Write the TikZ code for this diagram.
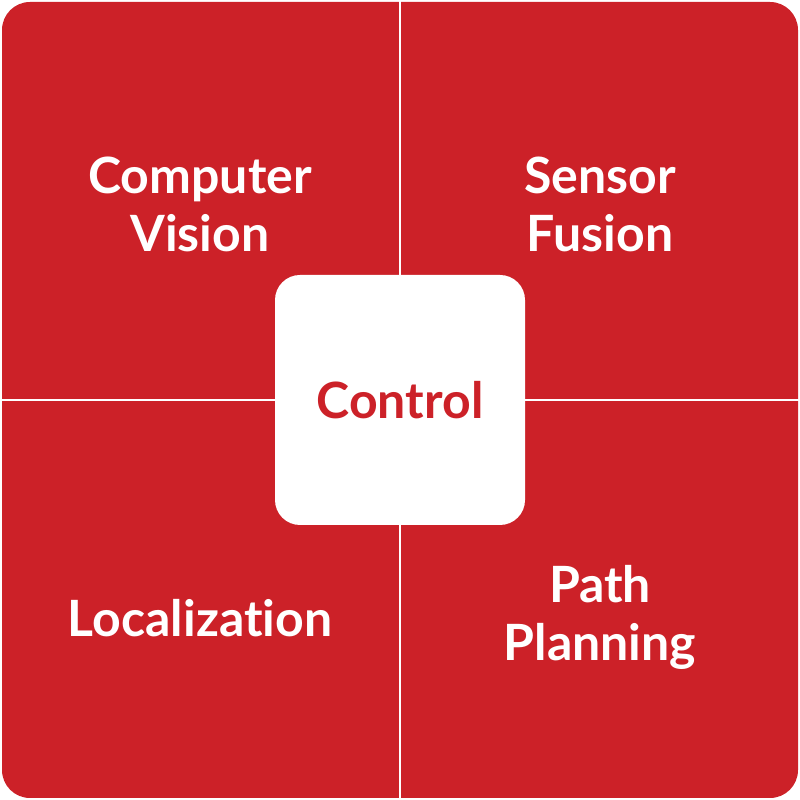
\documentclass[tikz,border=0pt]{standalone}
\usepackage{fontspec}
\setmainfont{Lato}[Ligatures=NoCommon]
\usepackage{xcolor}
\usepackage{tikz}
\usetikzlibrary{positioning}

\definecolor{panelred}{RGB}{204,33,40}

\begin{document}
\begin{tikzpicture}[
    x=1pt, y=1pt,
    label/.style={text=white, align=center, font=\fontsize{50}{58}\selectfont\bfseries},
    hub/.style={rectangle, fill=white, rounded corners=25pt, minimum width=250pt, minimum height=250pt, inner sep=0pt, text=panelred, font=\fontsize{50}{58}\selectfont\bfseries},
    divider/.style={draw=white, line width=1.4pt},
]
\useasboundingbox (0,0) rectangle (800,800);

% red panel
\fill[panelred, rounded corners=28pt] (2,2) rectangle (798,798);
\draw[divider] (400,0) -- (400,800);
\draw[divider] (0,400) -- (800,400);

% quadrants
\node[label] (cv) at (200,596) {Computer\\Vision};
\node[label] (sf) at (600,596) {Sensor\\Fusion};
\node[label] (loc) at (200,182) {Localization};
\node[label] (pp) at (600,183) {Path\\Planning};

% centre
\node[hub] (ctrl) at (400,400) {Control};

\end{tikzpicture}
\end{document}
